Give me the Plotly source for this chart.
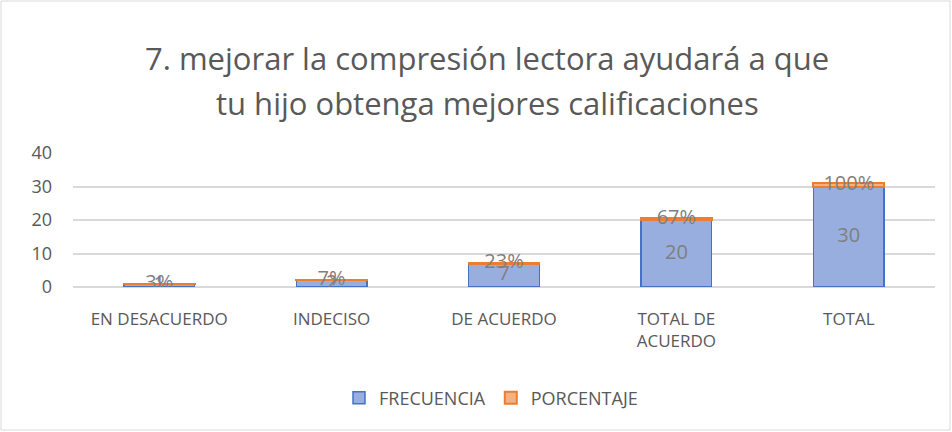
import plotly.graph_objects as go

categorias = ["EN DESACUERDO", "INDECISO", "DE ACUERDO", "TOTAL DE<br>ACUERDO", "TOTAL"]
frecuencia = [1, 2, 7, 20, 30]
porcentaje = [0.03, 0.07, 0.23, 0.67, 1.00]
titulo = ["7. mejorar la compresión lectora ayudará a que",
          "tu hijo obtenga mejores calificaciones"]

gris = "#595959"
fuente = "Open Sans"

fig = go.Figure()
fig.add_trace(go.Bar(x=categorias, y=frecuencia, name="FRECUENCIA",
                     marker=dict(color="#98aedf", line=dict(color="#4472c4", width=1.5))))
fig.add_trace(go.Bar(x=categorias, y=porcentaje, name="PORCENTAJE",
                     marker=dict(color="#f4b183", line=dict(color="#ed7d31", width=2))))

# etiquetas de datos
fig.add_trace(go.Scatter(x=categorias, y=[f / 2 for f in frecuencia], mode="text",
                         text=[str(f) for f in frecuencia], showlegend=False, hoverinfo="skip",
                         textfont=dict(size=20, color="#7f7f7f", family=fuente)))
fig.add_trace(go.Scatter(x=categorias, y=[f + p / 2 for f, p in zip(frecuencia, porcentaje)],
                         mode="text", text=[f"{p:.0%}" for p in porcentaje], showlegend=False,
                         hoverinfo="skip", textfont=dict(size=20, color="#7f7f7f", family=fuente)))

ml, mr, mt, mb = 73, 17, 153, 145
W, H = 952, 432
pw, ph = W - ml - mr, H - mt - mb


def px_x(x):
    return (x - ml) / pw


def px_y(y):
    return (H - mb - y) / ph


anots = [dict(text=t, x=px_x(487), y=px_y(yy), xref="paper", yref="paper", showarrow=False,
              xanchor="center", yanchor="middle", font=dict(size=31, color=gris, family=fuente))
         for t, yy in zip(titulo, [58, 103])]

fig.update_layout(
    width=W, height=H, barmode="stack", bargap=0.59,
    margin=dict(l=ml, r=mr, t=mt, b=mb),
    paper_bgcolor="white", plot_bgcolor="white",
    font=dict(family=fuente, color=gris, size=17),
    annotations=anots,
    xaxis=dict(showgrid=False, ticks="", ticklabelstandoff=20, tickfont=dict(size=17, color=gris),
               showline=False),
    yaxis=dict(range=[0, 40], dtick=10, gridcolor="#d9d9d9", gridwidth=1.5, zeroline=True,
               zerolinecolor="#d9d9d9", zerolinewidth=1.5, ticks="", ticklabelstandoff=20,
               tickfont=dict(size=18, color=gris)),
    legend=dict(orientation="h", x=px_x(491), xanchor="center", y=px_y(398), yanchor="middle",
                font=dict(size=18, color=gris), traceorder="normal"),
    shapes=[dict(type="rect", xref="paper", yref="paper",
                 x0=px_x(1), x1=px_x(950), y0=px_y(430), y1=px_y(1),
                 line=dict(color="#d9d9d9", width=1), fillcolor="rgba(0,0,0,0)")],
)

fig.write_html("out.html", config={"displayModeBar": False},
               post_script="document.body.style.margin='0';")
